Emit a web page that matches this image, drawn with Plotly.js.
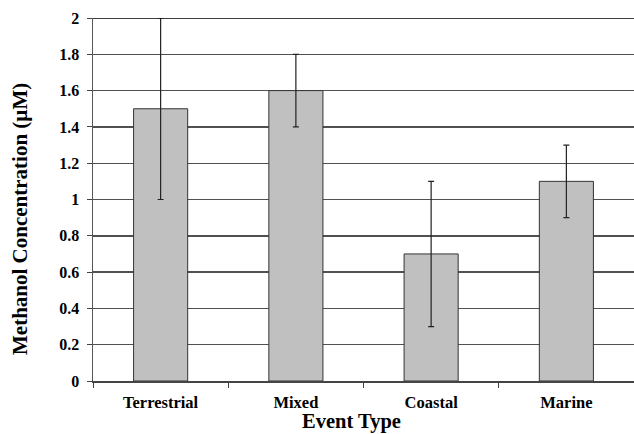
<!DOCTYPE html>
<html><head><meta charset="utf-8">
<script src="https://cdn.plot.ly/plotly-3.0.1.min.js"></script>
<style>html,body{margin:0;padding:0;background:#fff}#c{width:634px;height:434px}</style>
</head><body><div id="c"></div>
<script>
const categories = ["Terrestrial", "Mixed", "Coastal", "Marine"];
const methanol = [1.5, 1.6, 0.7, 1.1];
const errors = [0.5, 0.2, 0.4, 0.2];
const yTicks = [0, 0.2, 0.4, 0.6, 0.8, 1, 1.2, 1.4, 1.6, 1.8, 2];
const yTickText = ["0", "0.2", "0.4", "0.6", "0.8", "1", "1.2", "1.4", "1.6", "1.8", "2"];

const font = "'Liberation Serif', 'Times New Roman', serif";
Plotly.newPlot('c', [{
  type: 'bar', x: categories, y: methanol, width: 0.4,
  marker: {color: '#c0c0c0', line: {color: '#333', width: 1}},
  error_y: {type: 'data', array: errors, visible: true, color: '#222', thickness: 1.2, width: 3}
}], {
  width: 634, height: 434,
  margin: {l: 93, r: 0, t: 18, b: 53},
  paper_bgcolor: '#fff', plot_bgcolor: '#fff',
  showlegend: false,
  font: {family: font, color: '#000'},
  xaxis: {
    showline: true, linecolor: '#444', linewidth: 1.5,
    ticks: 'outside', tickson: 'boundaries', ticklen: 5, tickcolor: '#444',
    ticklabelstandoff: 6,
    tickfont: {size: 16.5, family: font, weight: 'bold'}
  },
  yaxis: {
    range: [0, 2], tickvals: yTicks, ticktext: yTickText,
    showline: true, linecolor: '#555', linewidth: 1.5,
    ticks: 'outside', ticklen: 5, tickcolor: '#444',
    ticklabelstandoff: 4,
    showgrid: true, gridcolor: '#505050', gridwidth: 1.4, zeroline: false,
    tickfont: {size: 16, family: font, weight: 'bold'}
  },
  annotations: [
    {text: '<b>Methanol Concentration (µM)</b>', textangle: -90, xref: 'paper', yref: 'paper',
     x: -73/541, y: (381 - 219) / 363, xanchor: 'center', yanchor: 'middle', showarrow: false,
     font: {size: 21, family: font, color: '#000'}},
    {text: '<b>Event Type</b>', xref: 'paper', yref: 'paper',
     x: (351 - 93) / 541, y: -(422 - 381) / 363, xanchor: 'center', yanchor: 'middle', showarrow: false,
     font: {size: 20.5, family: font, color: '#000'}}
  ],
  shapes: [{type: 'line', xref: 'paper', yref: 'y', x0: 0, x1: 1, y0: 2, y1: 2, line: {color: '#000', width: 1.5}}]
}, {displayModeBar: false, staticPlot: true});
</script></body></html>
